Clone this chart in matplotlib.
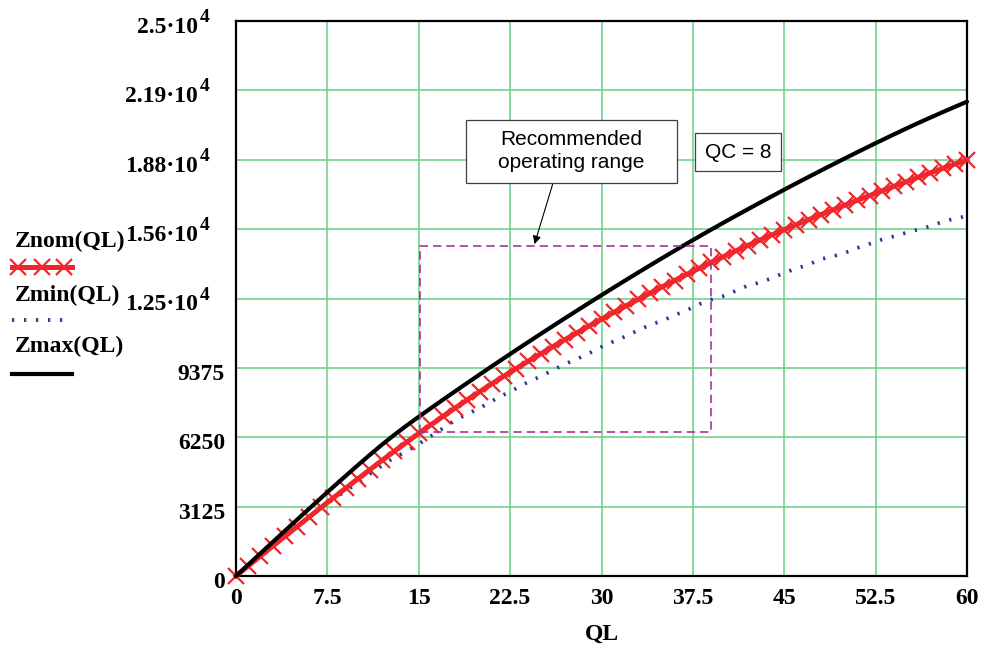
"""
    Impedance curves Znom / Zmin / Zmax against QL (QC = 8)
"""
import matplotlib.pyplot as plt
from matplotlib.lines import Line2D
from matplotlib.patches import Rectangle
from matplotlib.transforms import offset_copy

ql = list(range(0, 61))

z_nom = [
    0, 448, 894, 1338, 1780, 2220, 2657, 3091, 3523, 3951,
    4375, 4795, 5210, 5620, 6024, 6422, 6812, 7195, 7571, 7940,
    8302, 8657, 9005, 9345, 9679, 10007, 10329, 10646, 10958, 11266,
    11570, 11870, 12166, 12458, 12746, 13030, 13310, 13586, 13858, 14124,
    14384, 14638, 14886, 15129, 15367, 15600, 15829, 16054, 16276, 16495,
    16711, 16924, 17135, 17344, 17551, 17756, 17959, 18160, 18359, 18556,
    18751
]

z_min = [
    0, 450, 900, 1345, 1785, 2220, 2650, 3075, 3465, 3830,
    4200, 4600, 4980, 5340, 5610, 5950, 6300, 6660, 7020, 7300,
    7560, 7880, 8170, 8450, 8745, 8990, 9270, 9550, 9775, 10035,
    10320, 10570, 10800, 11070, 11310, 11500, 11750, 11970, 12240, 12450,
    12610, 12840, 13080, 13220, 13420, 13660, 13850, 14030, 14270, 14400,
    14560, 14780, 14960, 15150, 15300, 15460, 15610, 15760, 15960, 16100,
    16210
]

z_max = [
    0, 508, 1016, 1522, 2027, 2530, 3030, 3527, 4020, 4508,
    4990, 5463, 5925, 6360, 6775, 7172, 7561, 7945, 8325, 8702,
    9076, 9447, 9815, 10180, 10542, 10901, 11257, 11610, 11960, 12307,
    12651, 12992, 13330, 13665, 13997, 14326, 14651, 14972, 15289, 15602,
    15911, 16216, 16517, 16815, 17110, 17402, 17691, 17977, 18260, 18540,
    18817, 19091, 19362, 19629, 19892, 20151, 20406, 20652, 20894, 21132,
    21366
]

x_ticks = [0, 7.5, 15, 22.5, 30, 37.5, 45, 52.5, 60]
x_labels = ['0', '7.5', '15', '22.5', '30', '37.5', '45', '52.5', '60']
y_ticks = [0, 3125, 6250, 9375, 12500, 15625, 18750, 21875, 25000]
# mantissa, exponent ('' = plain number)
y_mant = ['0', '3125', '6250', '9375', '1.25·10', '1.56·10', '1.88·10',
          '2.19·10', '2.5·10']
y_exp = ['', '', '', '', '4', '4', '4', '4', '4']

# operating range box (QL from / to, Z from / to)
range_ql = (15.1, 39.0)
range_z = (6490, 14850)

W, H = 986, 654
RED = '#f0262c'
BLUE = '#2b3a96'
GRID = '#66cf82'
MAGENTA = '#b02f91'

serif = {'family': 'Liberation Serif', 'weight': 'bold', 'size': 17}


def fx(px):
    return px / W


def fy(py):
    return 1 - py / H


fig = plt.figure(figsize=(W / 100, H / 100), dpi=100)
ax = fig.add_axes([fx(236), fy(576), (967 - 236) / W, (576 - 21) / H])

ax.plot(ql, z_min, color=BLUE, lw=2.7, linestyle=(0, (0.6, 2.6)),
        dash_capstyle='butt', zorder=3)
ax.plot(ql, z_nom, color=RED, lw=3.6, marker='x', ms=12, mew=1.6,
        clip_on=False, zorder=4)
ax.plot(ql, z_max, color='black', lw=3.0, solid_capstyle='round',
        clip_on=False, zorder=5)

ax.add_patch(Rectangle((range_ql[0], range_z[0]),
                       range_ql[1] - range_ql[0], range_z[1] - range_z[0],
                       fill=False, edgecolor=MAGENTA, lw=1.2,
                       linestyle=(0, (5, 3)), zorder=6))

ax.set_xlim(0, 60)
ax.set_ylim(0, 25000)
ax.set_xticks(x_ticks)
ax.set_xticklabels(x_labels, fontdict=serif)
ax.set_yticks(y_ticks)
ax.set_yticklabels([])
ax.tick_params(length=0)
ax.tick_params(axis='x', pad=9)
ax.grid(True, color=GRID, lw=1.1)
ax.set_axisbelow(True)
for s in ax.spines.values():
    s.set_linewidth(1.6)
    s.set_color('black')
    s.set_zorder(2)

ax.set_xlabel('QL', fontdict=serif, labelpad=10)

# y labels drawn by hand, Mathcad puts the exponent as a big superscript
ytrans = ax.get_yaxis_transform()
base = offset_copy(ytrans, fig=fig, x=0, y=-12, units='dots')
sup = offset_copy(ytrans, fig=fig, x=0, y=-1, units='dots')
span = 967 - 236
for yv, m, e in zip(y_ticks, y_mant, y_exp):
    if e:
        ax.text((198 - 236) / span, yv, m, transform=base, ha='right',
                va='baseline', fontdict=serif, clip_on=False)
        ax.text((200 - 236) / span, yv, e, transform=sup, ha='left',
                va='baseline', family='Liberation Serif', weight='bold',
                size=14, clip_on=False)
    else:
        ax.text((225 - 236) / span, yv, m, transform=base, ha='right',
                va='baseline', fontdict=serif, clip_on=False)

# text boxes
fig.add_artist(Rectangle((fx(466), fy(183)), fx(677 - 466), (183 - 120) / H,
                         transform=fig.transFigure, facecolor='white',
                         edgecolor='#404040', lw=0.9, zorder=7))
fig.text(fx(571), fy(151), 'Recommended\noperating range', ha='center',
         va='center', fontsize=15, family='Liberation Sans',
         linespacing=1.25, zorder=8)
fig.add_artist(Rectangle((fx(695), fy(171)), fx(781 - 695), (171 - 133) / H,
                         transform=fig.transFigure, facecolor='white',
                         edgecolor='#404040', lw=0.9, zorder=7))
fig.text(fx(738), fy(152), 'QC = 8', ha='center', va='center', fontsize=15,
         family='Liberation Sans', zorder=8)
ax.annotate('', xy=(24.5, 14950), xytext=(fx(553), fy(183)),
            textcoords='figure fraction', zorder=8,
            arrowprops=dict(arrowstyle='-|>', color='black', lw=0.8,
                            shrinkA=0, shrinkB=0, mutation_scale=12))

# legend on the left, Mathcad style
fig.text(fx(15), fy(241), 'Znom(QL)', ha='left', va='center', fontdict=serif)
fig.text(fx(15), fy(295), 'Zmin(QL)', ha='left', va='center', fontdict=serif)
fig.text(fx(15), fy(346), 'Zmax(QL)', ha='left', va='center', fontdict=serif)
fig.add_artist(Line2D([fx(12), fx(72)], [fy(267), fy(267)], color=RED, lw=3.6,
                      transform=fig.transFigure))
fig.add_artist(Line2D([fx(18), fx(42), fx(64)], [fy(267)] * 3, color=RED,
                      lw=0, marker='x', ms=12, mew=1.6,
                      transform=fig.transFigure))
fig.add_artist(Line2D([fx(12), fx(66)], [fy(320), fy(320)], color=BLUE,
                      lw=2.7, linestyle=(0, (0.6, 2.6)),
                      transform=fig.transFigure))
fig.add_artist(Line2D([fx(12), fx(72)], [fy(374), fy(374)], color='black',
                      lw=3.0, transform=fig.transFigure))

fig.savefig('out.png', dpi=100)
